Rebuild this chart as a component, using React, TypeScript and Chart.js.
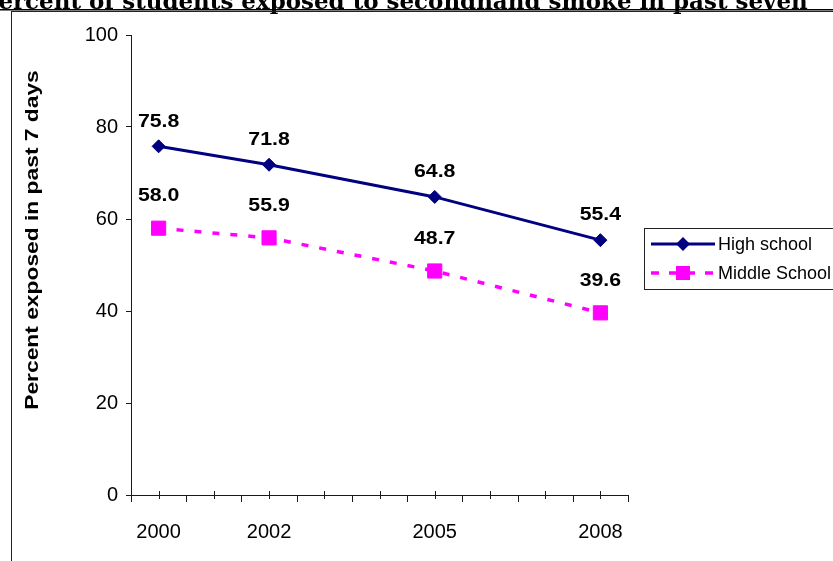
import React, { useEffect, useRef } from 'react';
import { Chart, registerables } from 'chart.js';

Chart.register(...registerables);

// ---- data ----
const years = [2000, 2002, 2005, 2008];
const highSchool = [75.8, 71.8, 64.8, 55.4];
const middleSchool = [58.0, 55.9, 48.7, 39.6];
const seriesNames = ['High school', 'Middle School'];
const pageTitle = 'Percent of students exposed to secondhand smoke in past seven';
const yAxisTitle = 'Percent exposed in past 7 days';

// ---- styles ----
const NAVY = '#000080';
const MAGENTA = '#FF00FF';
const AXIS = '#1a1a1a';
const SANS = '"Liberation Sans", Arial, sans-serif';
const SERIF = '"DejaVu Serif", "Liberation Serif", serif';
const MS_DASH = [7, 11];

// white page, clipped heading above the frame, and the frame itself
const backdrop = {
  id: 'backdrop',
  beforeDraw(chart: any) {
    const ctx = chart.ctx;
    ctx.save();
    ctx.fillStyle = '#fff';
    ctx.fillRect(0, 0, chart.width, chart.height);

    ctx.font = `bold 100px ${SERIF}`;
    const full = ctx.measureText(pageTitle).width;
    const lead = ctx.measureText(pageTitle[0]).width;
    const size = (100 * 809) / (full - lead);
    ctx.font = `bold ${size}px ${SERIF}`;
    const leadPx = ctx.measureText(pageTitle[0]).width;
    ctx.fillStyle = '#000';
    ctx.textAlign = 'left';
    ctx.textBaseline = 'alphabetic';
    ctx.fillText(pageTitle, -leadPx - 1, 8.5);
    ctx.fillRect(0, 9, chart.width, 1.5);

    ctx.strokeStyle = '#222';
    ctx.lineWidth = 1;
    ctx.strokeRect(11.5, 11.5, chart.width + 20, chart.height + 20);
    ctx.restore();
  },
};

// x-axis tick marks: outward marks on category boundaries, crossing marks on each year
const xTickMarks = {
  id: 'xTickMarks',
  afterDraw(chart: any) {
    const ctx = chart.ctx;
    const sx = chart.scales.x;
    const yAxis = sx.top;
    ctx.save();
    ctx.strokeStyle = AXIS;
    ctx.lineWidth = 1;
    sx.ticks.forEach((t: any) => {
      const px = Math.round(sx.getPixelForValue(t.value)) + 0.5;
      ctx.beginPath();
      if (Number.isInteger(t.value)) {
        ctx.moveTo(px, yAxis - 4);
        ctx.lineTo(px, yAxis + 4);
      } else {
        ctx.moveTo(px, yAxis);
        ctx.lineTo(px, yAxis + 7);
      }
      ctx.stroke();
    });
    ctx.restore();
  },
};

// value labels above each marker
const LABEL_LIFT = [25, 32];
const valueLabels = {
  id: 'valueLabels',
  afterDatasetsDraw(chart: any) {
    const ctx = chart.ctx;
    const series = [highSchool, middleSchool];
    ctx.save();
    ctx.fillStyle = '#000';
    ctx.font = `bold 19px ${SANS}`;
    ctx.textAlign = 'center';
    ctx.textBaseline = 'middle';
    series.forEach((vals, i) => {
      const meta = chart.getDatasetMeta(i);
      meta.data.forEach((pt: any, j: number) => {
        ctx.save();
        ctx.translate(pt.x, pt.y - LABEL_LIFT[i]);
        ctx.scale(1.12, 1);
        ctx.fillText(vals[j].toFixed(1), 0, 0);
        ctx.restore();
      });
    });
    ctx.restore();
  },
};

// rotated y-axis title
const yTitle = {
  id: 'yTitle',
  afterDraw(chart: any) {
    const ctx = chart.ctx;
    ctx.save();
    ctx.translate(33, 240);
    ctx.rotate(-Math.PI / 2);
    ctx.scale(1.2, 1);
    ctx.font = `bold 19px ${SANS}`;
    ctx.fillStyle = '#000';
    ctx.textAlign = 'center';
    ctx.textBaseline = 'middle';
    ctx.fillText(yAxisTitle, 0, 0);
    ctx.restore();
  },
};

// boxed legend on the right
const boxLegend = {
  id: 'boxLegend',
  afterDraw(chart: any) {
    const ctx = chart.ctx;
    const left = 644.5;
    const top = 228.5;
    ctx.save();
    ctx.fillStyle = '#fff';
    ctx.fillRect(left, top, 300, 61);
    ctx.strokeStyle = '#222';
    ctx.lineWidth = 1;
    ctx.strokeRect(left, top, 300, 61);

    const rows = [244, 273];
    const mx = 683;
    // High school
    ctx.strokeStyle = NAVY;
    ctx.lineWidth = 3;
    ctx.beginPath();
    ctx.moveTo(651, rows[0]);
    ctx.lineTo(715, rows[0]);
    ctx.stroke();
    ctx.fillStyle = NAVY;
    ctx.beginPath();
    ctx.moveTo(mx - 7, rows[0]);
    ctx.lineTo(mx, rows[0] - 7);
    ctx.lineTo(mx + 7, rows[0]);
    ctx.lineTo(mx, rows[0] + 7);
    ctx.closePath();
    ctx.fill();
    // Middle School
    ctx.strokeStyle = MAGENTA;
    ctx.lineWidth = 3.5;
    ctx.setLineDash([8, 10]);
    ctx.beginPath();
    ctx.moveTo(651, rows[1]);
    ctx.lineTo(715, rows[1]);
    ctx.stroke();
    ctx.setLineDash([]);
    ctx.fillStyle = MAGENTA;
    ctx.fillRect(mx - 7, rows[1] - 7, 14, 14);

    ctx.fillStyle = '#000';
    ctx.font = `18px ${SANS}`;
    ctx.textAlign = 'left';
    ctx.textBaseline = 'middle';
    ctx.fillText(seriesNames[0], 718, rows[0] + 1);
    ctx.fillText(seriesNames[1], 718, rows[1] + 1);
    ctx.restore();
  },
};

export default function App() {
  const canvasRef = useRef<HTMLCanvasElement | null>(null);

  useEffect(() => {
    if (!canvasRef.current) return;
    const chart = new Chart(canvasRef.current, {
      type: 'line',
      data: {
        datasets: [
          {
            label: seriesNames[0],
            data: years.map((x, i) => ({ x, y: highSchool[i] })),
            borderColor: NAVY,
            backgroundColor: NAVY,
            borderWidth: 3,
            pointStyle: 'rectRot',
            pointRadius: 6.5,
            pointBorderWidth: 1,
            pointBackgroundColor: NAVY,
            pointBorderColor: NAVY,
            tension: 0,
          },
          {
            label: seriesNames[1],
            data: years.map((x, i) => ({ x, y: middleSchool[i] })),
            borderColor: MAGENTA,
            backgroundColor: MAGENTA,
            borderWidth: 3.5,
            borderDash: MS_DASH,
            pointStyle: 'rect',
            pointRadius: 10,
            pointBorderWidth: 1,
            pointBackgroundColor: MAGENTA,
            pointBorderColor: MAGENTA,
            tension: 0,
          },
        ],
      },
      options: {
        responsive: false,
        animation: false,
        layout: { padding: { left: 0, top: 35, right: 205, bottom: 0 } },
        plugins: {
          legend: { display: false },
          title: { display: false },
          tooltip: { enabled: false },
        },
        scales: {
          x: {
            type: 'linear',
            min: 1999.5,
            max: 2008.5,
            afterFit(s: any) {
              s.height = 66;
            },
            grid: { display: false, drawTicks: false },
            border: { display: true, color: AXIS, width: 1 },
            ticks: {
              stepSize: 0.5,
              autoSkip: false,
              maxRotation: 0,
              padding: 25,
              color: '#000',
              font: { family: SANS, size: 20 },
              callback: (v: any) => (years.includes(Number(v)) ? String(v) : ''),
            },
          },
          y: {
            min: 0,
            max: 100,
            afterFit(s: any) {
              s.width = 131;
            },
            grid: { drawOnChartArea: false, drawTicks: true, tickLength: 5, color: AXIS },
            border: { display: true, color: AXIS, width: 1 },
            ticks: {
              stepSize: 20,
              padding: 8,
              color: '#000',
              font: { family: SANS, size: 20 },
            },
          },
        },
      },
      plugins: [backdrop, xTickMarks, valueLabels, yTitle, boxLegend],
    } as any);
    return () => chart.destroy();
  }, []);

  return (
    <div style={{ position: 'absolute', left: 0, top: 0, width: 833, height: 561, overflow: 'hidden' }}>
      <canvas ref={canvasRef} width={833} height={561} style={{ display: 'block' }} />
    </div>
  );
}
